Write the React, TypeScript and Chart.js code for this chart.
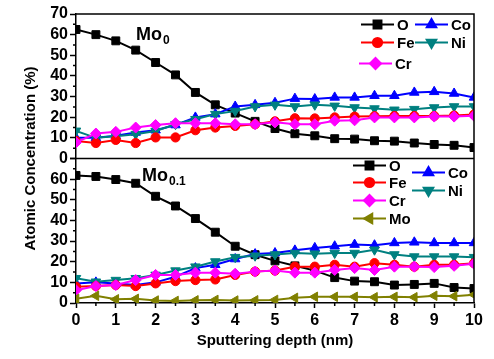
import React, { useEffect, useRef } from 'react';
import { Chart, registerables } from 'chart.js';
import { drawPoint } from 'chart.js/helpers';

Chart.register(...registerables);

const FONT = '"Liberation Sans", Arial, sans-serif';

const depth = [0, 0.5, 1, 1.5, 2, 2.5, 3, 3.5, 4, 4.5, 5, 5.5, 6, 6.5, 7, 7.5, 8, 8.5, 9, 9.5, 10];

// Top panel (Mo0)
const topO = [62.5, 60, 57, 52.5, 46.5, 40.5, 32, 26, 22, 18, 14.5, 12, 11, 9.6, 9.4, 8.6, 8.4, 7.5, 6.8, 6.4, 5.3];
const topFe = [8.5, 7.5, 9, 7.5, 10.2, 10.2, 13.7, 15, 15.8, 16.6, 18, 19.5, 19.4, 19.9, 20.3, 20.5, 20.6, 20.6, 20.6, 20.8, 21.3];
const topCr = [7.8, 12.1, 12.9, 15, 16.2, 17.1, 17.1, 17.1, 16.6, 16.6, 17.5, 16.6, 16.6, 18.3, 18.5, 19.9, 19.9, 19.9, 20.3, 20.3, 20.7];
const topCo = [10, 10, 11, 12.6, 13.7, 16.2, 19.9, 21.5, 25.2, 26, 27, 29, 28.8, 29.6, 29.6, 30.4, 30.4, 32, 32.3, 31.5, 29.6];
const topNi = [13.4, 10, 10.8, 11.8, 13.3, 16.6, 19, 21.5, 23, 25.2, 26, 25.2, 26, 25.5, 24.7, 24.2, 23.6, 23.9, 24.7, 25.2, 25.2];

// Bottom panel (Mo0.1)
const botO = [61.8, 61.3, 59.8, 58, 51.7, 47, 40.9, 34.3, 27.5, 23.4, 20.4, 18, 15.7, 12.3, 10.6, 10.3, 8.7, 9, 9.5, 7.5, 7];
const botFe = [7.9, 8.2, 8.7, 8.2, 9.5, 10.6, 11.1, 11.4, 13.6, 15.2, 15.7, 17.6, 17.6, 18.5, 17.6, 19.3, 18.5, 17.6, 18.5, 18.5, 19.3];
const botCr = [6.2, 8.2, 8.7, 11.1, 13.6, 13.6, 14.7, 14.7, 14.2, 15.2, 15.7, 14.7, 14.7, 16, 16.9, 16, 17.6, 17.6, 17.4, 18, 19];
const botCo = [9.5, 10, 9.5, 8.7, 10, 12.7, 16.9, 18.5, 21.3, 23.7, 24.2, 25.5, 26.7, 27.5, 28.3, 28, 29.1, 29.4, 29.1, 29.1, 29.1];
const botNi = [12, 10.3, 11.1, 12, 13.6, 15.7, 17.6, 20.1, 22.2, 22.9, 23.5, 24.2, 23.9, 24.2, 24.2, 25.8, 23.5, 22.5, 22.5, 22.5, 22.2];
const botMo = [2, 3.5, 1.8, 2, 1.2, 1, 1.3, 1.5, 1.2, 1.3, 1.5, 2.5, 3, 3, 3, 2.8, 3, 2.8, 3.5, 3.3, 4];

const yTicksMajor = [0, 10, 20, 30, 40, 50, 60, 70];
const xTitle = 'Sputtering depth (nm)';
const yTitle = 'Atomic Concentration (%)';

type Sty = { color: string; pointStyle: string; radius: number; rotation: number };
const STY: Record<string, Sty> = {
  O: { color: '#000000', pointStyle: 'rect', radius: 5.6, rotation: 0 },
  Fe: { color: '#ff0000', pointStyle: 'circle', radius: 4.6, rotation: 0 },
  Cr: { color: '#ff00ff', pointStyle: 'rectRot', radius: 5.5, rotation: 0 },
  Co: { color: '#0000ff', pointStyle: 'triangle', radius: 5.5, rotation: 0 },
  Ni: { color: '#008080', pointStyle: 'triangle', radius: 5.5, rotation: 180 },
  Mo: { color: '#808000', pointStyle: 'triangle', radius: 5.5, rotation: 270 },
};

function ds(label: string, data: number[], axis: string) {
  const s = STY[label];
  return {
    label,
    data: depth.map((x, i) => ({ x, y: data[i] })),
    yAxisID: axis,
    borderColor: s.color,
    backgroundColor: s.color,
    borderWidth: 2,
    pointStyle: s.pointStyle,
    pointRadius: s.radius,
    pointRotation: s.rotation,
    pointBorderWidth: 1,
    pointHoverRadius: s.radius,
  };
}

const decor = {
  id: 'decor',
  afterDraw(chart: any) {
    const ctx = chart.ctx as CanvasRenderingContext2D;
    const ca = chart.chartArea;
    const yT = chart.scales.yT;
    const yB = chart.scales.yB;
    const x = chart.scales.x;
    ctx.save();
    ctx.strokeStyle = '#000';
    ctx.lineWidth = 1.5;
    ctx.beginPath();
    ctx.moveTo(ca.left, ca.top);
    ctx.lineTo(ca.right, ca.top);
    ctx.lineTo(ca.right, ca.bottom);
    ctx.moveTo(ca.left, yT.bottom);
    ctx.lineTo(ca.right, yT.bottom);
    ctx.stroke();
    ctx.beginPath();
    for (const sc of [yT, yB]) {
      for (let v = 5; v < 70; v += 10) {
        const py = sc.getPixelForValue(v);
        ctx.moveTo(ca.left, py);
        ctx.lineTo(ca.left - 3, py);
      }
    }
    for (let v = 0.5; v < 10; v += 1) {
      const px = x.getPixelForValue(v);
      ctx.moveTo(px, ca.bottom);
      ctx.lineTo(px, ca.bottom + 3);
    }
    ctx.stroke();

    ctx.fillStyle = '#000';
    ctx.font = `bold 15px ${FONT}`;
    ctx.textAlign = 'center';
    ctx.textBaseline = 'middle';
    ctx.save();
    ctx.translate(31, (ca.top + ca.bottom) / 2);
    ctx.rotate(-Math.PI / 2);
    ctx.fillText(yTitle, 0, 0);
    ctx.restore();

    const label = (xx: number, yy: number, sub: string) => {
      ctx.textAlign = 'left';
      ctx.textBaseline = 'alphabetic';
      ctx.font = `bold 18px ${FONT}`;
      ctx.fillText('Mo', xx, yy);
      const w = ctx.measureText('Mo').width;
      ctx.font = `bold 12px ${FONT}`;
      ctx.fillText(sub, xx + w + 1, yy + 4);
    };
    label(ca.left + 60, yT.top + 26, '0');
    label(ca.left + 66, yB.top + 22, '0.1');

    const item = (name: string, lx: number, ly: number) => {
      const s = STY[name];
      ctx.strokeStyle = s.color;
      ctx.fillStyle = s.color;
      ctx.lineWidth = 2;
      ctx.beginPath();
      ctx.moveTo(lx, ly);
      ctx.lineTo(lx + 33, ly);
      ctx.stroke();
      drawPoint(ctx, { pointStyle: s.pointStyle as any, rotation: s.rotation, radius: s.radius, borderWidth: 1 }, lx + 16.5, ly);
      ctx.fillStyle = '#000';
      ctx.font = `bold 15px ${FONT}`;
      ctx.textAlign = 'left';
      ctx.textBaseline = 'middle';
      ctx.fillText(name, lx + 36, ly + 1);
    };
    const tt = yT.top;
    item('O', ca.right - 113, tt + 10.5);
    item('Co', ca.right - 59, tt + 10.5);
    item('Fe', ca.right - 113, tt + 28.5);
    item('Ni', ca.right - 59, tt + 28.5);
    item('Cr', ca.right - 115, tt + 49.5);
    const bt = yB.top;
    item('O', ca.right - 121, bt + 7);
    item('Co', ca.right - 62, bt + 14);
    item('Fe', ca.right - 121, bt + 24);
    item('Ni', ca.right - 62, bt + 32);
    item('Cr', ca.right - 121, bt + 42);
    item('Mo', ca.right - 121, bt + 60);
    ctx.restore();
  },
};

function yAxis(hideTop: boolean) {
  return {
    type: 'linear' as const,
    position: 'left' as const,
    stack: 'panels',
    stackWeight: 1,
    min: 0,
    max: 70,
    afterBuildTicks: (s: any) => {
      s.ticks = yTicksMajor.map((v) => ({ value: v }));
    },
    ticks: {
      autoSkip: false,
      color: '#000',
      font: { family: FONT, size: 16, weight: 'bold' as const },
      padding: 2,
      callback: (v: any) => (hideTop && v === 70 ? '' : String(v)),
    },
    grid: { drawOnChartArea: false, tickLength: 6, tickColor: '#000', tickWidth: 1.5 },
    border: { color: '#000', width: 1.5 },
    afterFit: (s: any) => {
      s.width = 76;
    },
  };
}

export default function App() {
  const ref = useRef<HTMLCanvasElement>(null);
  useEffect(() => {
    if (!ref.current) return;
    const chart = new Chart(ref.current, {
      type: 'line',
      data: {
        datasets: [
          ds('Mo', botMo, 'yB'),
          ds('Cr', botCr, 'yB'),
          ds('Fe', botFe, 'yB'),
          ds('Ni', botNi, 'yB'),
          ds('Co', botCo, 'yB'),
          ds('O', botO, 'yB'),
          ds('Cr', topCr, 'yT'),
          ds('Fe', topFe, 'yT'),
          ds('Ni', topNi, 'yT'),
          ds('Co', topCo, 'yT'),
          ds('O', topO, 'yT'),
        ] as any,
      },
      options: {
        responsive: false,
        animation: false,
        devicePixelRatio: 1,
        layout: { padding: { left: 0, top: 14, right: 20, bottom: 0 } },
        plugins: { legend: { display: false }, tooltip: { enabled: false } },
        scales: {
          x: {
            type: 'linear',
            min: 0,
            max: 10,
            ticks: {
              stepSize: 1,
              autoSkip: false,
              color: '#000',
              font: { family: FONT, size: 16, weight: 'bold' },
              padding: 3,
              maxRotation: 0,
            },
            grid: { drawOnChartArea: false, tickLength: 5, tickColor: '#000', tickWidth: 1.5 },
            border: { color: '#000', width: 1.5 },
            title: {
              display: true,
              text: xTitle,
              color: '#000',
              font: { family: FONT, size: 15, weight: 'bold' },
              padding: { top: 0, bottom: 9 },
            },
            afterFit: (s: any) => {
              s.height = 56;
            },
          },
          yB: yAxis(true),
          yT: yAxis(false),
        } as any,
      },
      plugins: [decor],
    });
    return () => chart.destroy();
  }, []);
  return (
    <div style={{ position: 'absolute', left: 0, top: 0, width: 494, height: 359, background: '#fff' }}>
      <canvas ref={ref} width={494} height={359} />
    </div>
  );
}
